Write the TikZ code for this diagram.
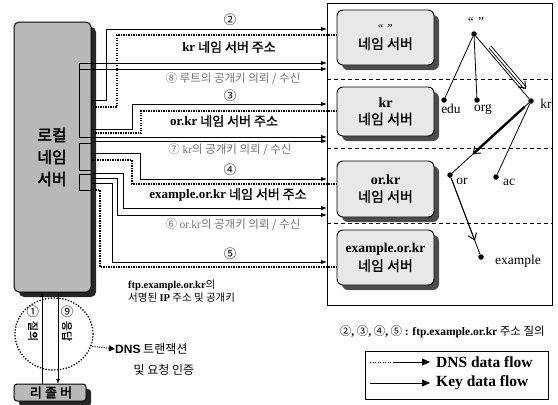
\documentclass[tikz,border=0pt]{standalone}
\usepackage{fontspec}
\setmainfont{Noto Sans CJK KR}
\newfontfamily\tms{Liberation Serif}
\newfontfamily\arl{Liberation Sans}
\newfontfamily\krb[FakeBold=1.2]{Noto Sans CJK KR}
\newfontfamily\krbb[FakeBold=2.5]{Noto Sans CJK KR}
\newfontfamily\krsp[FakeBold=2.5,LetterSpace=25]{Noto Sans CJK KR}
\usetikzlibrary{arrows.meta,shapes.geometric,shadows,calc}
\newcommand{\myfs}[1]{\fontsize{#1}{#1}\selectfont}
\newcommand{\nsnm}{\tms\bfseries\myfs{14}}
\begin{document}
\begin{tikzpicture}[x=1pt,y=-1pt,
  flow/.style={line width=0.9pt},
  dnsret/.style={line width=1.2pt, dash pattern=on 1.2pt off 1.3pt},
  tipr/.style={-{Latex[length=6pt,width=4.5pt]}},
  srvbox/.style={draw, line width=1pt, rounded corners=5pt, fill=gray!55, inner sep=0pt,
     drop shadow={shadow xshift=5pt, shadow yshift=-5pt, fill=black!85, opacity=1}},
  nsbox/.style={draw, line width=0.9pt, rounded corners=6pt, fill=gray!18, inner sep=0pt,
     minimum width=97pt, align=center,
     drop shadow={shadow xshift=5pt, shadow yshift=-5pt, fill=black!70, opacity=1}},
  lbl/.style={inner sep=0pt, font=\myfs{13}},
  keylbl/.style={inner sep=0pt, font=\myfs{11.5}, text=black!55},
  num/.style={inner sep=0pt, font=\myfs{12.5}},
  dot/.style={circle, fill=black, inner sep=0pt, minimum size=5.5pt},
  tree/.style={inner sep=0pt, font=\tms\myfs{13.5}},
  dashsep/.style={line width=0.7pt, dash pattern=on 4pt off 3pt},
  treearr/.style={-{Straight Barb[length=6pt,width=9pt,line width=1pt]}}
]
\useasboundingbox (0,0) rectangle (558,405);

% ---------- right panel ----------
\node[draw, line width=1pt, minimum width=225pt, minimum height=302pt, inner sep=0pt] (panel) at (439.5,154) {};
\draw[dashsep] (327,79) -- (552,79);
\draw[dashsep] (327,148) -- (552,148);
\draw[dashsep] (327,223) -- (552,223);

\node[nsbox, minimum height=55pt] (ns1) at (385.5,37.5)
  {{\tms\myfs{12}“\,\,”}\\[4pt]{\krb\myfs{14}네임 서버}};
\node[nsbox, minimum height=49pt] (ns2) at (385.5,111.5)
  {{\nsnm kr}\\[5pt]{\krb\myfs{14}네임 서버}};
\node[nsbox, minimum height=56pt] (ns3) at (385.5,189)
  {{\nsnm or.kr}\\[5pt]{\krb\myfs{14}네임 서버}};
\node[nsbox, minimum height=55pt] (ns4) at (385.5,257.5)
  {{\tms\bfseries\myfs{13.5}example.or.kr}\\[3pt]{\krb\myfs{14}네임 서버}};

% tree
\node[dot] (root) at (474,34) {};
\node[dot] (edu) at (444,100) {};
\node[dot] (org) at (477,100) {};
\node[dot] (kr) at (531,101) {};
\node[dot] (or) at (450,175) {};
\node[dot] (ac) at (496,177) {};
\node[dot] (ex) at (481,257) {};
\node[tree] (rootl) at (476,22) {“\,\,”};
\node[tree] (edul) at (451,109) {edu};
\node[tree] (orgl) at (483,109) {org};
\node[tree] (krl) at (546,104) {kr};
\node[tree] (orl) at (462,181) {or};
\node[tree] (acl) at (509,182) {ac};
\node[tree] (exl) at (518,261) {example};
\draw[line width=0.8pt] (root) -- (edu);
\draw[line width=0.8pt] (root) -- (org);
\draw[line width=0.8pt] (root) -- (kr);
\draw[line width=0.8pt] (kr) -- (ac);
\draw[line width=0.8pt] (kr) -- (or);
\draw[line width=0.8pt] (or) -- (ex);
\coordinate (a1s) at (490,47);
\coordinate (a1e) at (526,89);
\draw[double=white, double distance=1.8pt, line width=0.9pt, treearr] (a1s) -- (a1e);
\draw[line width=2.4pt, treearr] ($(kr)!0.08!(or)$) -- ($(kr)!0.72!(or)$);
\draw[line width=0.9pt, treearr] (or) -- ($(or)!0.8!(ex)$);

% ---------- local server ----------
\node[srvbox, minimum width=77pt, minimum height=270pt] (srv) at (52.5,157) {};
\node[inner sep=0pt, align=center, font=\krbb\myfs{16}] (srvt) at (52,157)
  {로컬\\[6pt]네임\\[6pt]서버};
% ports on server
\draw[line width=0.8pt] (91,63) -- (79,63) -- (79,137) -- (91,137);
\draw[line width=0.8pt] (91,143) -- (79,143) -- (79,170) -- (91,170);
\draw[line width=0.8pt] (91,174) -- (79,174) -- (79,190) -- (91,190);

% ---------- flows ----------
% 2
\coordinate (s2q) at (92,100);
\coordinate (p2q) at (327,29);
\draw[flow, tipr] (s2q) -- (106,100) -- (106,29) -- (p2q);
\coordinate (b2a) at (337,35);
\coordinate (s2a) at (92,107);
\draw[dnsret] (b2a) -- (117,35) -- (117,107) -- (s2a);
\node[num] (n2) at (230,20) {②};
\node[lbl] (t2) at (229,47) {{\tms\bfseries kr} {\krb 네임 서버 주소}};
% key 8
\coordinate (s8a) at (79,63);
\coordinate (p8a) at (327,63);
\coordinate (s8b) at (79,69);
\coordinate (p8b) at (327,69);
\draw[flow, tipr] (s8a) -- (p8a);
\draw[flow, tipr] (s8b) -- (p8b);
\node[keylbl] (t8) at (233,79) {⑧ 루트의 공개키 의뢰 / 수신};
% 3
\coordinate (s3q) at (92,129);
\coordinate (p3q) at (327,104);
\draw[flow, tipr] (s3q) -- (132,129) -- (132,104) -- (p3q);
\coordinate (b3a) at (337,111);
\coordinate (s3a) at (92,133);
\draw[dnsret] (b3a) -- (141,111) -- (141,133) -- (s3a);
\node[num] (n3) at (230,96) {③};
\node[lbl] (t3) at (224,121) {{\tms\bfseries or.kr} {\krb 네임 서버 주소}};
% key 7
\coordinate (s7a) at (79,137);
\coordinate (p7a) at (327,137);
\coordinate (s7b) at (92,141);
\coordinate (p7b) at (327,141);
\draw[flow, tipr] (s7a) -- (p7a);
\draw[flow, tipr] (s7b) -- (p7b);
\node[keylbl] (t7) at (230,150) {⑦ {\tms kr}의 공개키 의뢰 / 수신};
% 4
\coordinate (s4q) at (92,153);
\coordinate (p4q) at (327,179);
\draw[flow, tipr] (s4q) -- (140,153) -- (140,179) -- (p4q);
\coordinate (b4a) at (337,184);
\coordinate (s4a) at (92,160);
\draw[dnsret] (b4a) -- (132,184) -- (132,160) -- (s4a);
\node[num] (n4) at (230,170) {④};
\node[lbl] (t4) at (228,195) {{\tms\bfseries example.or.kr} {\krb 네임 서버 주소}};
% key 6
\coordinate (s6a) at (92,173);
\coordinate (p6a) at (327,208);
\coordinate (s6b) at (92,178);
\coordinate (p6b) at (327,215);
\draw[flow, tipr] (s6a) -- (123,173) -- (123,208) -- (p6a);
\draw[flow, tipr] (s6b) -- (117,178) -- (117,215) -- (p6b);
\node[keylbl] (t6) at (233,225) {⑥ {\tms or.kr}의 공개키 의뢰 / 수신};
% 5
\coordinate (s5q) at (92,183);
\coordinate (p5q) at (327,262);
\draw[flow, tipr] (s5q) -- (112,183) -- (112,262) -- (p5q);
\coordinate (b5a) at (337,267);
\coordinate (s5a) at (92,190);
\draw[dnsret] (b5a) -- (100,267) -- (100,190) -- (s5a);
\node[num] (n5) at (230,254) {⑤};
\node[inner sep=0pt, anchor=west, align=left, font=\myfs{10.5}] (t5) at (128,291)
  {{\tms\bfseries ftp.example.or.kr}의\\[1pt]서명된 {\tms\bfseries IP} 주소 및 공개키};

% ---------- resolver ----------
\node[srvbox, minimum width=72pt, minimum height=17pt, rounded corners=3pt] (res) at (50,392.5) {};
\node[inner sep=0pt, font=\krsp\myfs{13}] (rest) at (51,392.5) {리졸버};
\coordinate (qa) at (42,384);
\coordinate (qb) at (42,292);
\coordinate (ra) at (58,292);
\coordinate (rb) at (58,384);
\draw[flow, -{Latex[length=5pt,width=4pt]}] (qa) -- (qb);
\draw[flow, -{Latex[length=5pt,width=4pt]}] (ra) -- (rb);
\node[num] (n1) at (33,312) {①};
\node[inner sep=0pt, rotate=-90, font=\krb\myfs{11}] (t1) at (33,331) {질의};
\node[num] (n9) at (67,312) {⑨};
\node[inner sep=0pt, rotate=-90, font=\krb\myfs{11}] (t9) at (67,331) {응답};
\node[ellipse, draw, line width=1.3pt, dash pattern=on 1.3pt off 1.6pt, minimum width=78pt, minimum height=72pt] (ell) at (54,334) {};
\node[inner sep=0pt, anchor=west, font=\myfs{12}] (dns) at (115,349) {{\arl\bfseries DNS} 트랜잭션};
\node[inner sep=0pt, font=\myfs{12}] (dns2) at (164,370) {및 요청 인증};
\draw[line width=1pt, dash pattern=on 1pt off 1.3pt, {Triangle[length=6pt,width=6pt]}-] (dns.west) -- (ell.-18);

% ---------- bottom right ----------
\node[inner sep=0pt, anchor=east, font=\myfs{11.5}] (q) at (545,332)
  {②{\tms\bfseries,} ③{\tms\bfseries,} ④{\tms\bfseries,} ⑤ {\tms\bfseries : ftp.example.or.kr} 주소 질의};
\node[draw, line width=0.8pt, minimum width=183pt, minimum height=48pt, inner sep=0pt] (leg) at (456.5,375) {};
\coordinate (l1a) at (370,362);
\coordinate (l1b) at (393,362);
\coordinate (l1c) at (430,362);
\draw[dnsret, line width=0.9pt] (l1a) -- (l1b);
\draw[flow, -{Triangle[length=8pt,width=7pt]}] (l1b) -- (l1c);
\node[inner sep=0pt, anchor=west, font=\tms\bfseries\myfs{15.5}] (l1t) at (436,362) {DNS data flow};
\coordinate (l2a) at (370,383);
\coordinate (l2c) at (430,383);
\draw[flow, -{Triangle[length=8pt,width=7pt]}] (l2a) -- (l2c);
\node[inner sep=0pt, anchor=west, font=\tms\bfseries\myfs{15.5}] (l2t) at (436,383) {Key data flow};
\end{tikzpicture}
\end{document}
